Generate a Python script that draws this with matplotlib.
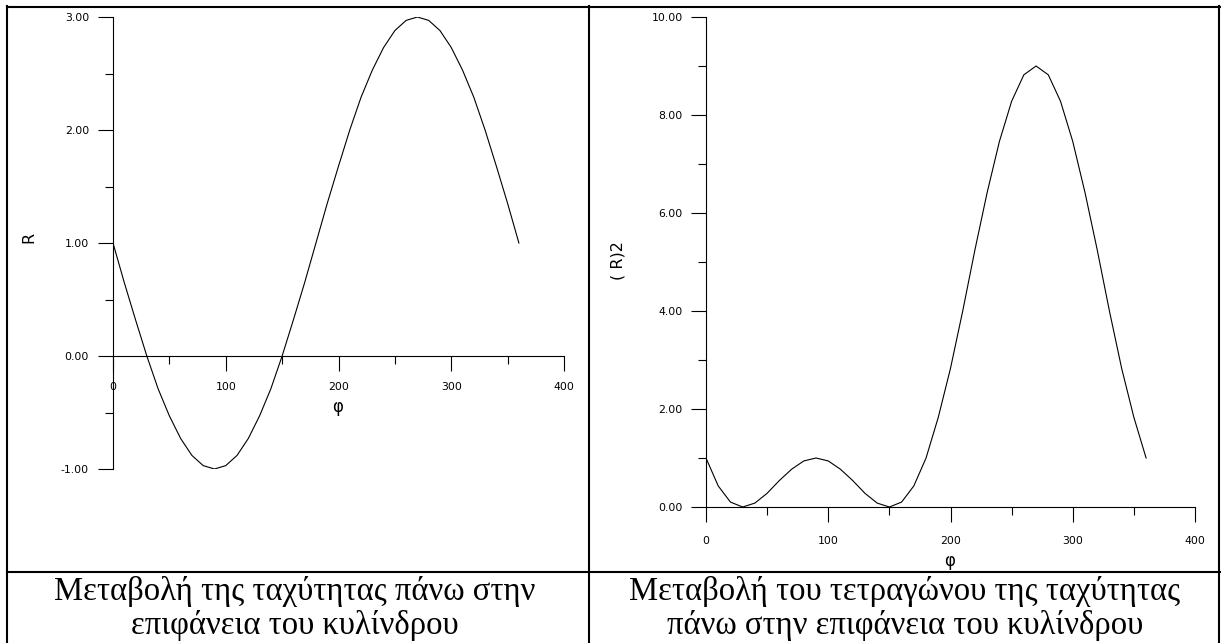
import matplotlib
matplotlib.use('Agg')
import matplotlib.pyplot as plt
from matplotlib.lines import Line2D
from matplotlib.ticker import MultipleLocator, FormatStrFormatter

plt.rcParams['font.family'] = ['DejaVu Sans']

# angle phi (degrees) and values
phi = [0, 10, 20, 30, 40, 50, 60, 70, 80, 90, 100, 110, 120, 130, 140, 150, 160, 170, 180,
       190, 200, 210, 220, 230, 240, 250, 260, 270, 280, 290, 300, 310, 320, 330, 340, 350, 360]
R = [1.00, 0.65, 0.32, 0.00, -0.29, -0.53, -0.73, -0.88, -0.97, -1.00, -0.97, -0.88, -0.73,
     -0.53, -0.29, 0.00, 0.32, 0.65, 1.00, 1.35, 1.68, 2.00, 2.29, 2.53, 2.73, 2.88, 2.97,
     3.00, 2.97, 2.88, 2.73, 2.53, 2.29, 2.00, 1.68, 1.35, 1.00]
R2 = [1.00, 0.43, 0.10, 0.00, 0.08, 0.28, 0.54, 0.77, 0.94, 1.00, 0.94, 0.77, 0.54, 0.28,
      0.08, 0.00, 0.10, 0.43, 1.00, 1.83, 2.83, 4.00, 5.25, 6.42, 7.46, 8.28, 8.82, 9.00,
      8.82, 8.28, 7.46, 6.42, 5.25, 4.00, 2.83, 1.83, 1.00]

caption_left = ['Μεταβολή της ταχύτητας πάνω στην', 'επιφάνεια του κυλίνδρου']
caption_right = ['Μεταβολή του τετραγώνου της ταχύτητας', 'πάνω στην επιφάνεια του κυλίνδρου']

W, H = 1221, 643
fig = plt.figure(figsize=(W / 100, H / 100), dpi=100)


def px_axes(x0, y0, x1, y1):
    # pixel box (top-left origin) -> axes
    return fig.add_axes([x0 / W, 1 - y1 / H, (x1 - x0) / W, (y1 - y0) / H])


def style(ax, xpad, ypad):
    ax.spines['top'].set_visible(False)
    ax.spines['right'].set_visible(False)
    ax.spines['left'].set_position(('data', 0))
    ax.spines['bottom'].set_position(('data', 0))
    for s in ('left', 'bottom'):
        ax.spines[s].set_linewidth(0.8)
    ax.tick_params(which='major', direction='out', length=10.8, width=0.8, labelsize=7.8)
    ax.tick_params(which='minor', direction='out', length=5.5, width=0.8)
    ax.tick_params(axis='x', which='major', pad=xpad)
    ax.tick_params(axis='y', which='major', pad=ypad)
    ax.xaxis.set_major_locator(MultipleLocator(100))
    ax.xaxis.set_minor_locator(MultipleLocator(50))
    ax.yaxis.set_major_formatter(FormatStrFormatter('%.2f'))
    ax.set_xlim(0, 400)


# left panel
ax1 = px_axes(113, 17, 564, 469)
ax1.plot(phi, R, color='black', lw=0.8)
style(ax1, 8, 6.5)
ax1.set_ylim(-1, 3)
ax1.yaxis.set_major_locator(MultipleLocator(1))
ax1.yaxis.set_minor_locator(MultipleLocator(0.5))
ax1.set_ylabel('R', fontsize=11.5)
ax1.yaxis.set_label_coords(-0.170, 0.513)
ax1.set_xlabel('φ', fontsize=12)
ax1.xaxis.set_label_coords(0.499, 0.157)

# right panel
ax2 = px_axes(706, 17, 1195, 507)
ax2.plot(phi, R2, color='black', lw=0.8)
style(ax2, 10, 6)
ax2.set_ylim(0, 10)
ax2.yaxis.set_major_locator(MultipleLocator(2))
ax2.yaxis.set_minor_locator(MultipleLocator(1))
ax2.set_ylabel('( R)2', fontsize=11.5)
ax2.yaxis.set_label_coords(-0.165, 0.502)
ax2.set_xlabel('φ', fontsize=12)
ax2.xaxis.set_label_coords(0.499, -0.092)

# table frame
def hline(y, x0, x1):
    fig.add_artist(Line2D([x0 / W, x1 / W], [1 - y / H, 1 - y / H], color='black', lw=1.5))


def vline(x, y0, y1):
    fig.add_artist(Line2D([x / W, x / W], [1 - y0 / H, 1 - y1 / H], color='black', lw=1.5))


hline(7, 6.5, 1219.5)
hline(572, 6.5, 1219.5)
vline(7.3, 6.3, 643)
vline(589, 6.3, 643)
vline(1219, 6.3, 643)

for cx, lines in ((295, caption_left), (905, caption_right)):
    for ybase, txt in zip((600, 634), lines):
        fig.text(cx / W, 1 - ybase / H, txt, ha='center', va='baseline',
                 family='Liberation Serif', fontsize=23.5)

fig.savefig('out.png', dpi=100)
